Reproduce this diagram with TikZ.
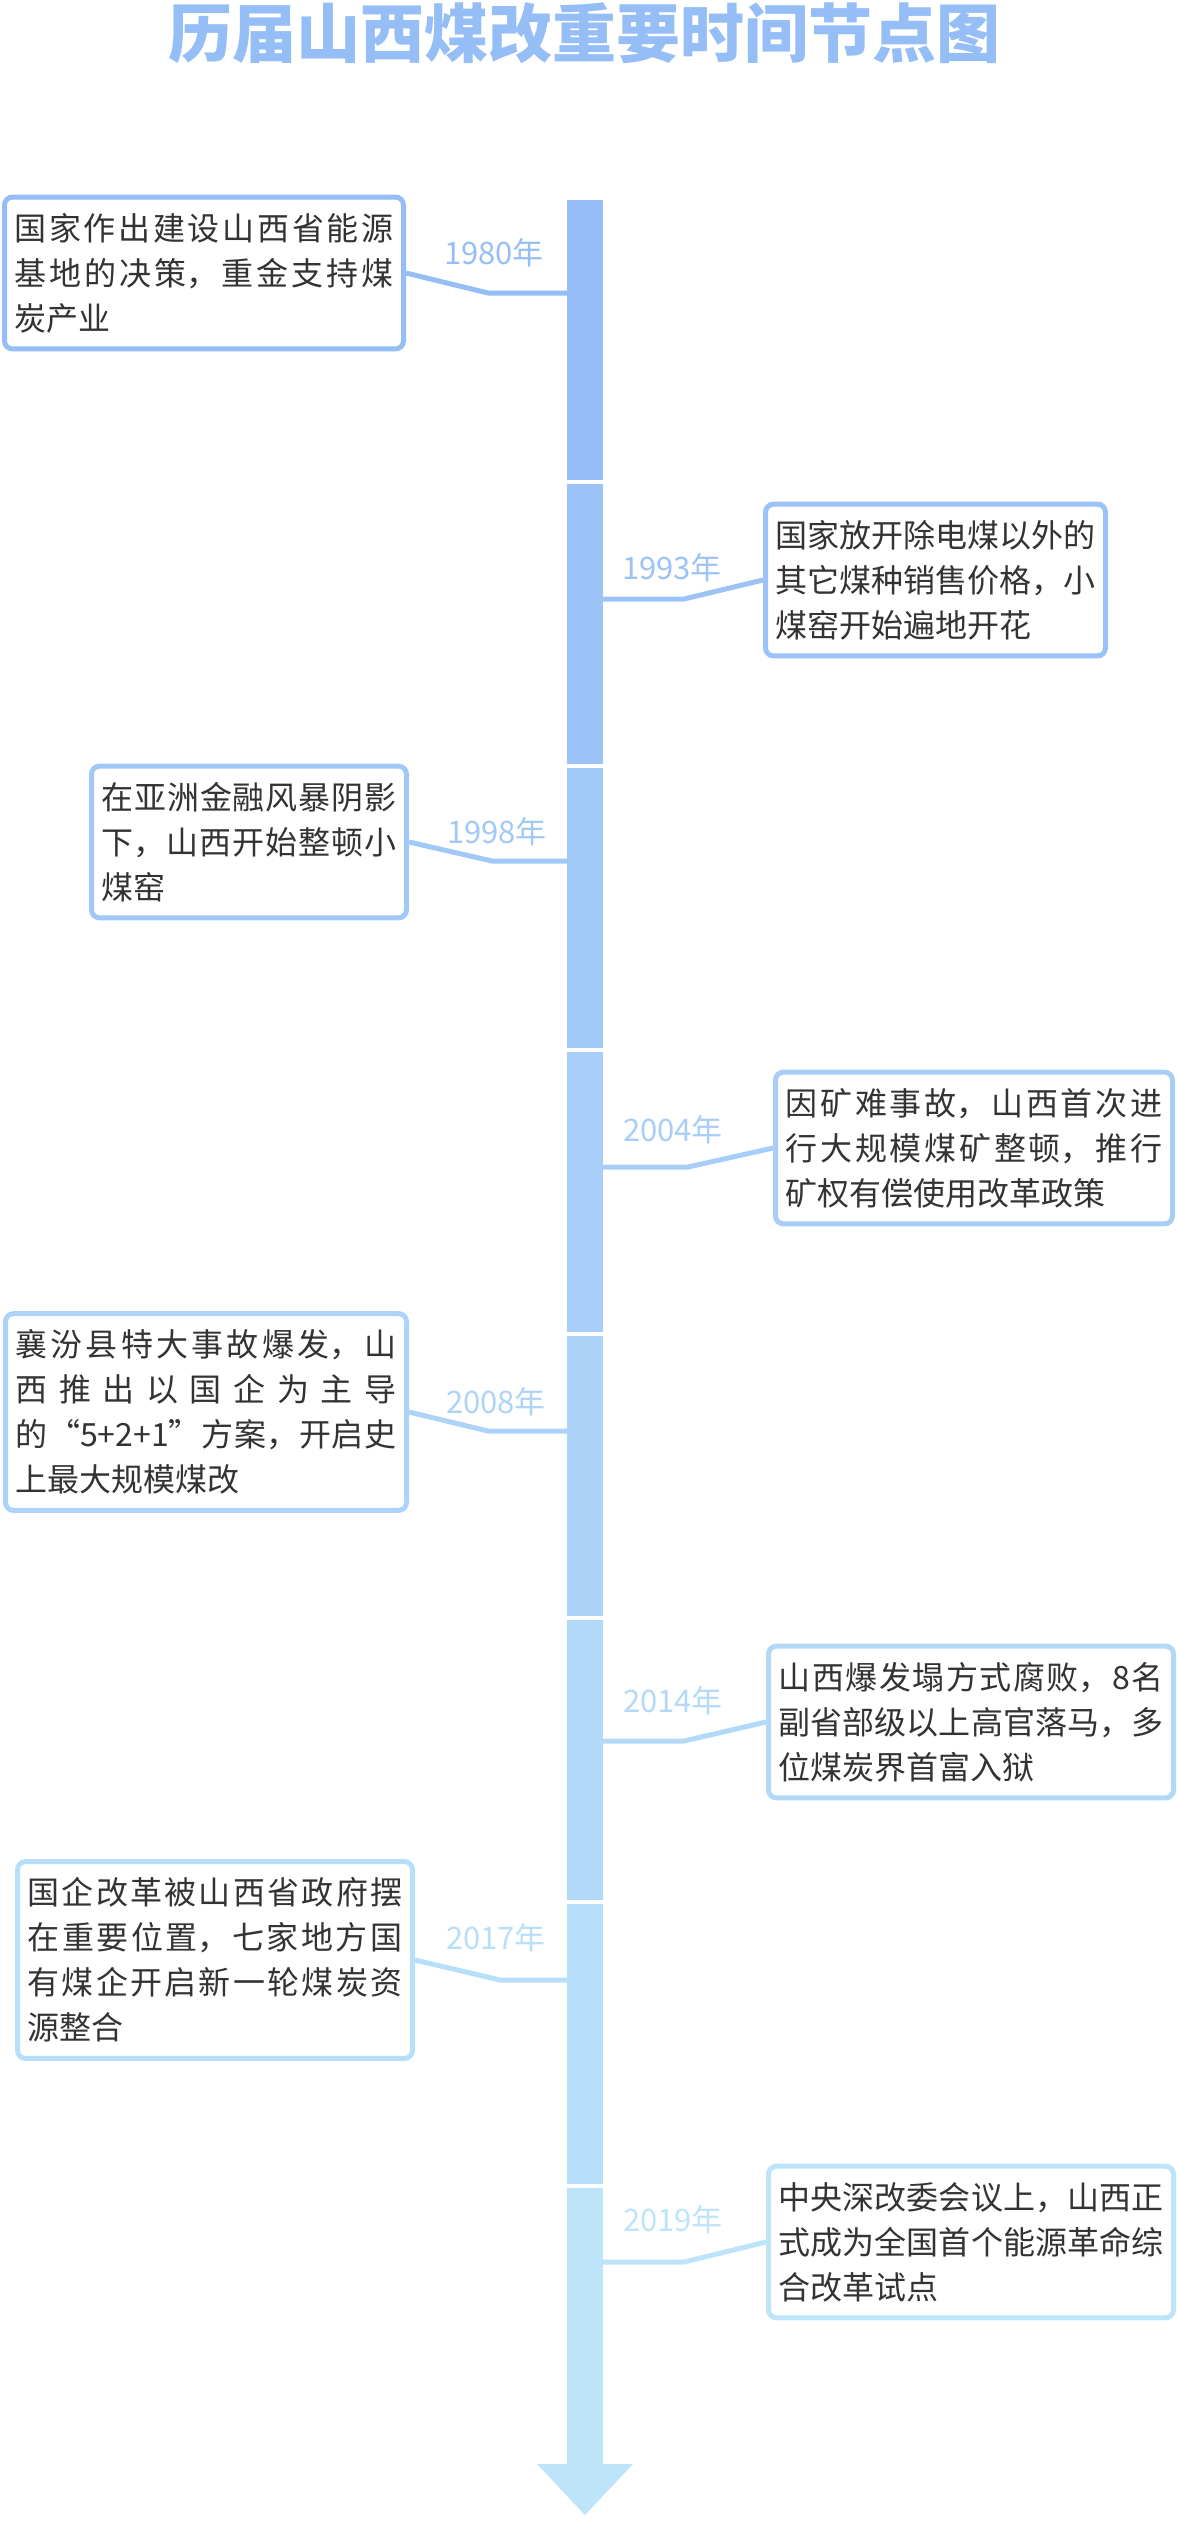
\documentclass[tikz,border=0pt]{standalone}
\usepackage{xcolor}
\usepackage{fontspec}
\setmainfont{Noto Sans CJK SC}
\usepackage{tikz}
\usetikzlibrary{calc}
\usetikzlibrary{positioning}
\XeTeXlinebreaklocale "zh"
\XeTeXlinebreakskip = 0pt plus 12pt
\tolerance=10000
\hbadness=10000

\definecolor{c1980}{RGB}{150,190,246}
\definecolor{c1993}{RGB}{156,195,247}
\definecolor{c1998}{RGB}{161,201,247}
\definecolor{c2004}{RGB}{167,206,248}
\definecolor{c2008}{RGB}{173,212,248}
\definecolor{c2014}{RGB}{179,217,249}
\definecolor{c2017}{RGB}{184,223,249}
\definecolor{c2019}{RGB}{190,228,250}
\definecolor{txt}{RGB}{51,51,51}

\tikzstyle{seg} = [rectangle, draw=none, inner sep=0, minimum width=36pt, minimum height=280pt, anchor=north west]
\tikzstyle{eventbox} = [rectangle, rounded corners=8pt, line width=5pt, fill=white, inner xsep=10pt, inner ysep=16pt, align=justify, text=txt, font=\fontsize{32}{45}\selectfont]
\tikzstyle{yearlabel} = [draw=none, inner sep=0, font=\fontsize{31}{31}\selectfont]
\tikzstyle{conn} = [-, line width=5pt]

\begin{document}
\begin{tikzpicture}[x=1pt, y=-1pt]
\useasboundingbox (0,0) rectangle (1178,2522);
\node [draw=none, inner sep=0, text=c1980, font=\fontsize{64}{64}\selectfont\bfseries] (title) at (584,33) {历届山西煤改重要时间节点图};

% time axis
\node [seg, fill=c1980] (s1980) at (567,200) {};
\node [seg, fill=c1993] (s1993) at (567,484) {};
\node [seg, fill=c1998] (s1998) at (567,768) {};
\node [seg, fill=c2004] (s2004) at (567,1052) {};
\node [seg, fill=c2008] (s2008) at (567,1336) {};
\node [seg, fill=c2014] (s2014) at (567,1620) {};
\node [seg, fill=c2017] (s2017) at (567,1904) {};
\node [seg, fill=c2019, minimum height=277pt] (s2019) at (567,2188) {};
\fill [c2019] (537,2464) -- (633,2464) -- (585,2515) -- cycle;

\coordinate (k1980) at (567,293);
\coordinate (k1993) at (603,599);
\coordinate (k1998) at (567,861);
\coordinate (k2004) at (603,1167);
\coordinate (k2008) at (567,1431);
\coordinate (k2014) at (603,1741);
\coordinate (k2017) at (567,1980);
\coordinate (k2019) at (603,2262);

\node [eventbox, draw=c1980, text width=379pt, anchor=east] (b1980) at (406,273) {国家作出建设山西省能源\linebreak 基地的决策，重金支持煤\linebreak 炭产业};
\node [eventbox, draw=c1993, text width=320pt, anchor=west] (b1993) at (763,580) {国家放开除电煤以外的\linebreak 其它煤种销售价格，小\linebreak 煤窑开始遍地开花};
\node [eventbox, draw=c1998, text width=295pt, anchor=east] (b1998) at (409,842) {在亚洲金融风暴阴影\linebreak 下，山西开始整顿小\linebreak 煤窑};
\node [eventbox, draw=c2004, text width=377pt, anchor=west] (b2004) at (773,1148) {因矿难事故，山西首次进\linebreak 行大规模煤矿整顿，推行\linebreak 矿权有偿使用改革政策};
\node [eventbox, draw=c2008, text width=381pt, anchor=east] (b2008) at (409,1412) {襄汾县特大事故爆发，山\linebreak 西推出以国企为主导\linebreak 的“5+2+1”方案，开启史\linebreak 上最大规模煤改};
\node [eventbox, draw=c2014, text width=385pt, anchor=west] (b2014) at (766,1722) {山西爆发塌方式腐败，8名\linebreak 副省部级以上高官落马，多\linebreak 位煤炭界首富入狱};
\node [eventbox, draw=c2017, text width=375pt, anchor=east] (b2017) at (415,1960) {国企改革被山西省政府摆\linebreak 在重要位置，七家地方国\linebreak 有煤企开启新一轮煤炭资\linebreak 源整合};
\node [eventbox, draw=c2019, text width=385pt, anchor=west] (b2019) at (766,2242) {中央深改委会议上，山西正\linebreak 式成为全国首个能源革命综\linebreak 合改革试点};

\node [yearlabel, text=c1980] (y1980) at (494,253) {1980年};
\node [yearlabel, text=c1993] (y1993) at (672,568) {1993年};
\node [yearlabel, text=c1998] (y1998) at (497,832) {1998年};
\node [yearlabel, text=c2004] (y2004) at (673,1130) {2004年};
\node [yearlabel, text=c2008] (y2008) at (496,1402) {2008年};
\node [yearlabel, text=c2014] (y2014) at (673,1701) {2014年};
\node [yearlabel, text=c2017] (y2017) at (496,1938) {2017年};
\node [yearlabel, text=c2019] (y2019) at (673,2220) {2019年};

\draw [conn, c1980] (k1980) -- ++(-79,0) -- (b1980.east);
\draw [conn, c1993] (k1993) -- ++(81,0) -- (b1993.west);
\draw [conn, c1998] (k1998) -- ++(-75,0) -- (b1998.east);
\draw [conn, c2004] (k2004) -- ++(85,0) -- (b2004.west);
\draw [conn, c2008] (k2008) -- ++(-79,0) -- (b2008.east);
\draw [conn, c2014] (k2014) -- ++(81,0) -- (b2014.west);
\draw [conn, c2017] (k2017) -- ++(-67,0) -- (b2017.east);
\draw [conn, c2019] (k2019) -- ++(81,0) -- (b2019.west);
%\node [draw=none, font=\tiny] at (585,2540) {};
\end{tikzpicture}
\end{document}
